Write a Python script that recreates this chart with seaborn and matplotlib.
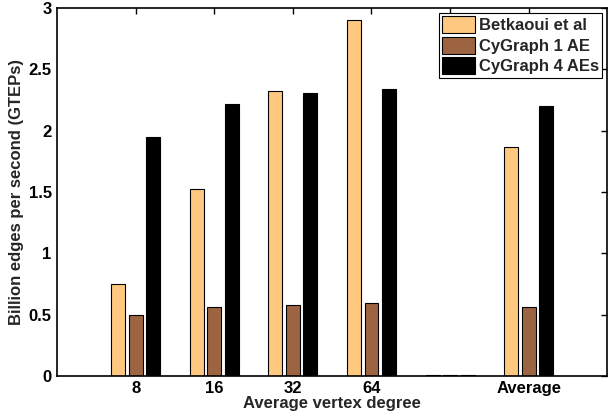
import matplotlib
matplotlib.use('Agg')
import pandas as pd
import matplotlib.pyplot as plt
import seaborn as sns

# data
degrees = ['8', '16', '32', '64', '', 'Average']
betkaoui = [0.745, 1.52, 2.325, 2.90, 0.005, 1.87]
cygraph_1ae = [0.50, 0.565, 0.58, 0.59, 0.005, 0.56]
cygraph_4ae = [1.95, 2.22, 2.31, 2.34, 0.005, 2.20]
series_names = ['Betkaoui et al', 'CyGraph 1 AE', 'CyGraph 4 AEs']
colors = ['#FFC880', '#9C6440', '#000000']

rows = []
for name, vals in zip(series_names, [betkaoui, cygraph_1ae, cygraph_4ae]):
    for d, v in zip(degrees, vals):
        rows.append({'degree': d, 'value': v, 'series': name})
df = pd.DataFrame(rows)

sns.set_style('white')
plt.rcParams['font.family'] = ['Liberation Sans', 'DejaVu Sans']
plt.rcParams['font.weight'] = 'bold'

fig = plt.figure(figsize=(6.09, 4.19), dpi=100)
ax = fig.add_axes([0.094, 0.103, 0.903, 0.878])

sns.barplot(data=df, x='degree', y='value', hue='series', order=degrees,
            hue_order=series_names, palette=colors, width=0.667, gap=0.2,
            edgecolor='black', linewidth=0.8, saturation=1, ax=ax)

ax.set_xlim(-1, 6)
ax.set_ylim(0, 3)
ax.set_yticks([0, 0.5, 1, 1.5, 2, 2.5, 3])
ax.set_yticklabels(['0', '0.5', '1', '1.5', '2', '2.5', '3'])
ax.set_xlabel('Average vertex degree', fontsize=12, fontweight='bold', labelpad=0)
ax.set_ylabel('Billion edges per second (GTEPs)', fontsize=12, fontweight='bold', labelpad=3)

for s in ax.spines.values():
    s.set_visible(True)
    s.set_color('black')
    s.set_linewidth(1.2)
ax.tick_params(direction='in', length=4, width=1, top=True, right=True,
               labelsize=12, colors='black', pad=4)
for lbl in ax.get_xticklabels() + ax.get_yticklabels():
    lbl.set_fontweight('bold')

leg = ax.legend(loc='upper right', fancybox=False, edgecolor='black',
                framealpha=1, fontsize=12, borderaxespad=0.3,
                handlelength=2.0, handleheight=1.2, handletextpad=0.2,
                labelspacing=0.2, borderpad=0.2)
leg.get_frame().set_linewidth(0.8)
for t in leg.get_texts():
    t.set_fontweight('bold')

fig.savefig('out.png', dpi=100)
